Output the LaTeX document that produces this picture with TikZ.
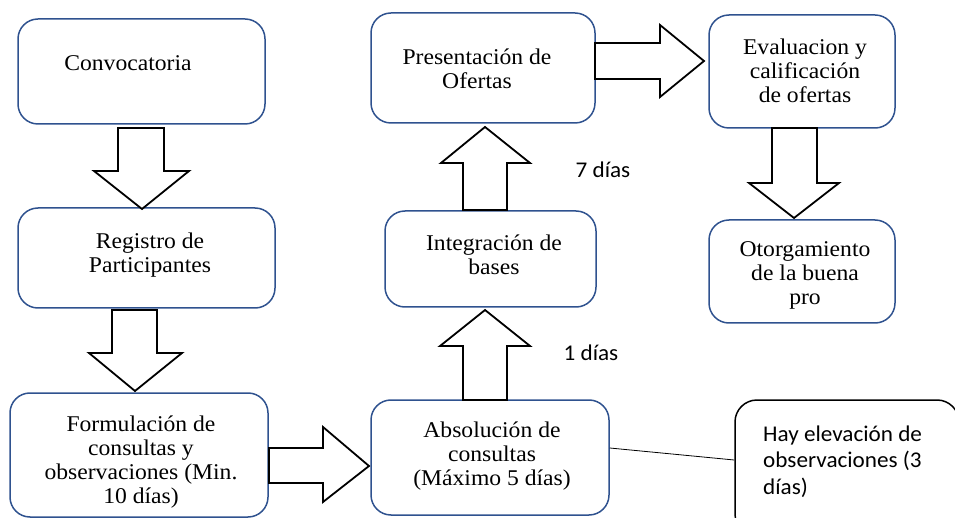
\documentclass[tikz,border=0pt]{standalone}
\usepackage{fontspec}
\setmainfont{Liberation Serif}[FakeStretch=1.05]
\newfontfamily\calfont{Carlito}[FakeStretch=1.03]
\definecolor{boxblue}{RGB}{47,82,143}
\tikzset{
  box/.style={draw=boxblue, line width=1.5pt, rounded corners=20pt, inner sep=0pt},
  notebox/.style={draw=black, line width=1.5pt, rounded corners=22pt, inner sep=0pt},
  txt/.style={inner sep=0pt, align=center, font=\fontsize{22.5}{24}\selectfont},
  caltxt/.style={inner sep=0pt, align=left, font=\calfont\fontsize{22.5}{26.5}\selectfont},
  barrow/.style={draw=black, line width=1.8pt, fill=white, miter limit=10},
  link/.style={draw=black, line width=0.8pt}
}
\begin{document}
\begin{tikzpicture}[x=1pt,y=-1pt]
\useasboundingbox (0,0) rectangle (955,518);
\clip (0,0) rectangle (955,518);
% boxes
\node[box, minimum width=247pt, minimum height=105pt] (conv) at (141.5,71.5) {};
\node[box, minimum width=257pt, minimum height=100pt] (reg) at (146.5,258) {};
\node[box, minimum width=258pt, minimum height=124pt] (form) at (139,455) {};
\node[box, minimum width=238pt, minimum height=115pt] (abs) at (490,457.5) {};
\node[box, minimum width=211pt, minimum height=96pt] (int) at (490.5,259) {};
\node[box, minimum width=224pt, minimum height=110pt] (pres) at (483,68) {};
\node[box, minimum width=186pt, minimum height=113pt] (eval) at (802,71.5) {};
\node[box, minimum width=186pt, minimum height=103pt] (otor) at (802,271.5) {};
\node[notebox, minimum width=224pt, minimum height=136pt] (hay) at (847,468) {};
% texts
\node[txt] (convt) at (128,63) {Convocatoria};
\node[txt] (regt) at (150,255) {Registro de\\Participantes};
\node[txt] (formt) at (141,462.5) {Formulación de\\consultas y\\observaciones (Min.\\10 días)};
\node[txt] (abst) at (492,456) {Absolución de\\consultas\\(Máximo 5 días)};
\node[txt] (intt) at (494,255) {Integración de\\bases};
\node[txt] (prest) at (477,69) {Presentación de\\Ofertas};
\node[txt] (evalt) at (805,71) {Evaluacion y\\calificación\\de ofertas};
\node[txt] (otort) at (805,275) {Otorgamiento\\de la buena\\pro};
\node[caltxt, anchor=west] (hayt) at (763,461.5) {Hay elevación de\\observaciones (3\\días)};
\node[caltxt] (d7) at (603,170) {7 días};
\node[caltxt] (d1) at (591,353) {1 días};
% block arrows
\draw[barrow] (118,128) -- (118,171) -- (94,171) -- (142,209) -- (189,171) -- (164,171) -- (164,128) -- cycle;
\draw[barrow] (112,310) -- (112,353) -- (89,353) -- (135,391) -- (182,353) -- (157,353) -- (157,310) -- cycle;
\draw[barrow] (269,448) -- (323,448) -- (323,427) -- (369,466) -- (323,502) -- (323,483) -- (269,483) -- cycle;
\draw[barrow] (463,400) -- (463,346) -- (440,346) -- (485,310) -- (530,346) -- (507,346) -- (507,400) -- cycle;
\draw[barrow] (463,210) -- (463,163) -- (441,163) -- (485,127) -- (530,163) -- (507,163) -- (507,210) -- cycle;
\draw[barrow] (595,43) -- (660,43) -- (660,25) -- (704,61) -- (660,97) -- (660,79) -- (595,79) -- cycle;
\draw[barrow] (772,128) -- (772,183) -- (749,183) -- (794,218) -- (839,183) -- (817,183) -- (817,128) -- cycle;
% link line
\draw[link] ([yshift=9.5pt]abs.east) -- ([yshift=8pt]hay.west);
\end{tikzpicture}
\end{document}
